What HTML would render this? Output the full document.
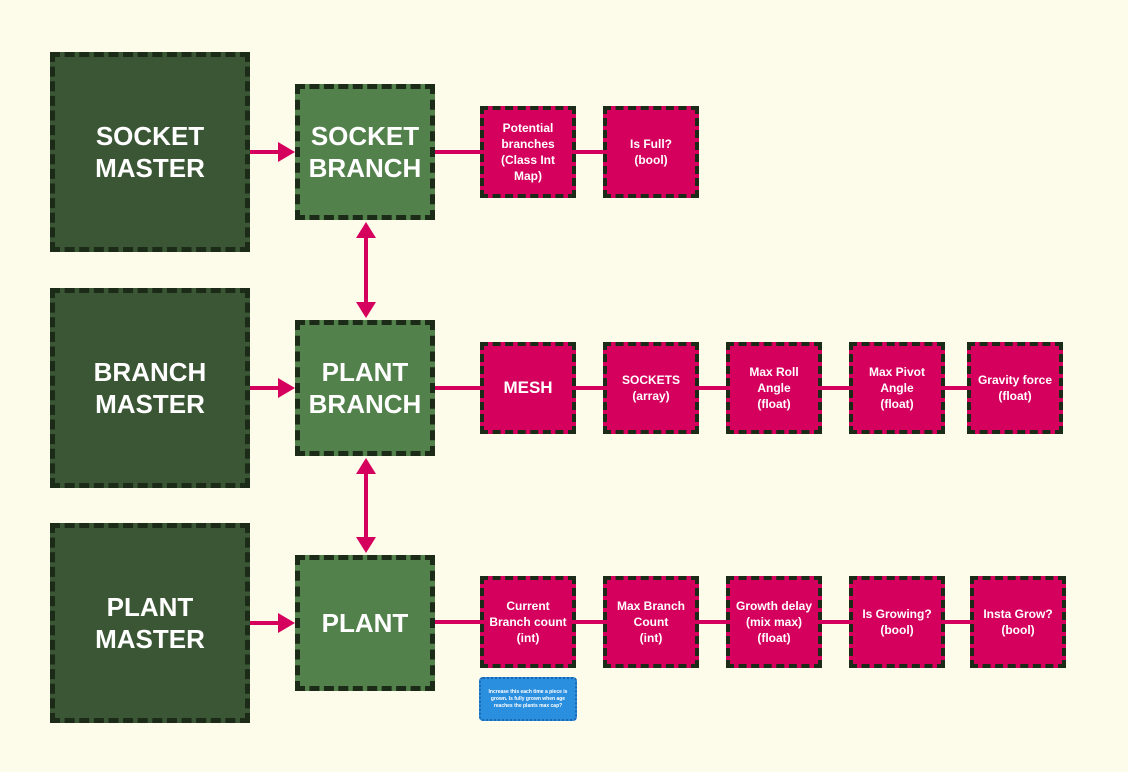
<!DOCTYPE html>
<html><head><style>
body{margin:0;width:1128px;height:772px;background:#fdfbe9;position:relative;overflow:hidden;font-family:"Liberation Sans",sans-serif;font-weight:bold}
.b{position:absolute;box-sizing:border-box;border:5px dashed #1c2a18;display:flex;align-items:center;justify-content:center;text-align:center;color:#fff}
.m{background:#3a5634;font-size:26px;line-height:32px}
.g{background:#52814b;font-size:26px;line-height:32px}
.p{background:#d5005e;font-size:12px;line-height:16px;border-width:4px}
</style></head><body>
<svg style="position:absolute;left:0;top:0" width="1128" height="772">
<g stroke="#d5005e" stroke-width="4" fill="#d5005e">
<line x1="250" y1="152" x2="285" y2="152"/><polygon points="295,152 278,142 278,162" stroke="none"/>
<line x1="250" y1="388" x2="285" y2="388"/><polygon points="295,388 278,378 278,398" stroke="none"/>
<line x1="250" y1="623" x2="285" y2="623"/><polygon points="295,623 278,613 278,633" stroke="none"/>
<line x1="366" y1="232" x2="366" y2="308"/><polygon points="366,222 356,238 376,238" stroke="none"/><polygon points="366,318 356,302 376,302" stroke="none"/>
<line x1="366" y1="468" x2="366" y2="543"/><polygon points="366,458 356,474 376,474" stroke="none"/><polygon points="366,553 356,537 376,537" stroke="none"/>
<line x1="435" y1="152" x2="605" y2="152"/>
<line x1="435" y1="388" x2="970" y2="388"/>
<line x1="435" y1="622" x2="972" y2="622"/>
</g></svg>
<div class="b m" style="left:50px;top:52px;width:200px;height:200px">SOCKET<br>MASTER</div>
<div class="b m" style="left:50px;top:288px;width:200px;height:200px">BRANCH<br>MASTER</div>
<div class="b m" style="left:50px;top:523px;width:200px;height:200px">PLANT<br>MASTER</div>
<div class="b g" style="left:295px;top:84px;width:140px;height:136px">SOCKET<br>BRANCH</div>
<div class="b g" style="left:295px;top:320px;width:140px;height:136px">PLANT<br>BRANCH</div>
<div class="b g" style="left:295px;top:555px;width:140px;height:136px">PLANT</div>
<div class="b p" style="left:480px;top:106px;width:96px;height:92px">Potential<br>branches<br>(Class Int<br>Map)</div>
<div class="b p" style="left:603px;top:106px;width:96px;height:92px">Is Full?<br>(bool)</div>
<div class="b p" style="left:480px;top:342px;width:96px;height:92px;font-size:17px">MESH</div>
<div class="b p" style="left:603px;top:342px;width:96px;height:92px">SOCKETS<br>(array)</div>
<div class="b p" style="left:726px;top:342px;width:96px;height:92px">Max Roll<br>Angle<br>(float)</div>
<div class="b p" style="left:849px;top:342px;width:96px;height:92px">Max Pivot<br>Angle<br>(float)</div>
<div class="b p" style="left:967px;top:342px;width:96px;height:92px">Gravity force<br>(float)</div>
<div class="b p" style="left:480px;top:576px;width:96px;height:92px">Current<br>Branch count<br>(int)</div>
<div class="b p" style="left:603px;top:576px;width:96px;height:92px">Max Branch<br>Count<br>(int)</div>
<div class="b p" style="left:726px;top:576px;width:96px;height:92px">Growth delay<br>(mix max)<br>(float)</div>
<div class="b p" style="left:849px;top:576px;width:96px;height:92px">Is Growing?<br>(bool)</div>
<div class="b p" style="left:970px;top:576px;width:96px;height:92px">Insta Grow?<br>(bool)</div>
<div class="b" style="left:479px;top:677px;width:98px;height:44px;background:#2b8fe0;border:2px dotted #1a66b0;border-radius:4px;font-size:5px;line-height:7px;padding:2px">Increase this each time a piece is grown. Is fully grown when age reaches the plants max cap?</div>
</body></html>
